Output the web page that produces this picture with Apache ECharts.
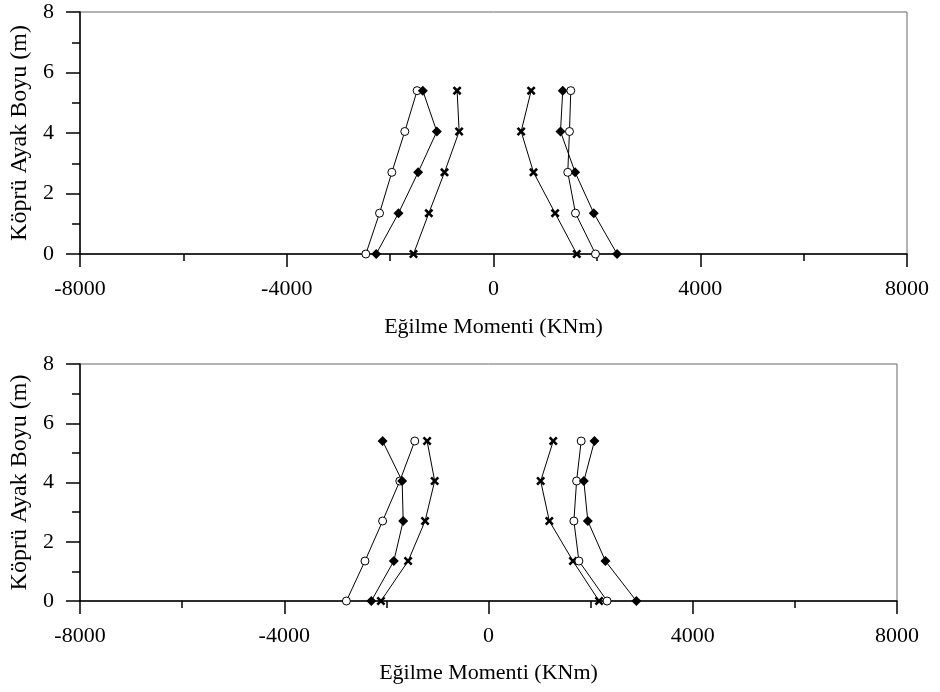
<!DOCTYPE html>
<html>
<head>
<meta charset="utf-8">
<script src="https://cdn.jsdelivr.net/npm/echarts@6/dist/echarts.min.js"></script>
<style>
  html, body { margin: 0; padding: 0; background: #fff; }
  #chart { width: 940px; height: 692px; }
</style>
</head>
<body>
<div id="chart"></div>
<script>
// Pier heights (m) at which bending moments were computed
const heights = [0, 1.35, 2.7, 4.05, 5.4];

// Upper panel: bending moments (kNm), negative and positive envelopes
const topCircleNeg  = [-2470, -2205, -1967, -1716, -1478];
const topDiamondNeg = [-2270, -1838, -1458, -1097, -1368];
const topCrossNeg   = [-1548, -1251, -948, -665, -704];
const topCrossPos   = [1611, 1192, 774, 535, 728];
const topDiamondPos = [2391, 1940, 1579, 1296, 1340];
const topCirclePos  = [1973, 1586, 1437, 1470, 1495];

// Lower panel
const botCircleNeg  = [-2783, -2419, -2074, -1737, -1444];
const botDiamondNeg = [-2295, -1854, -1671, -1691, -2074];
const botCrossNeg   = [-2107, -1574, -1242, -1054, -1202];
const botCrossPos   = [2166, 1654, 1191, 1022, 1268];
const botCirclePos  = [2322, 1770, 1672, 1725, 1815];
const botDiamondPos = [2896, 2290, 1945, 1867, 2075];

// Axis ticks
const xTicks = { min: -8000, max: 8000, interval: 4000 };
const yTicks = { min: 0, max: 8, interval: 2 };

const xTitle = 'Eğilme Momenti (KNm)';
const yTitle = 'Köprü Ayak Boyu (m)';

const FONT = '"Liberation Serif", "Times New Roman", serif';
const CROSS = 'path://M0,2 L2,0 L5,3 L8,0 L10,2 L7,5 L10,8 L8,10 L5,7 L2,10 L0,8 L3,5 Z';

const markers = {
  circle:  { symbol: 'circle', symbolSize: 8, itemStyle: { color: '#fff', borderColor: '#000', borderWidth: 1 } },
  diamond: { symbol: 'diamond', symbolSize: 10, itemStyle: { color: '#000', borderColor: '#000', borderWidth: 0 } },
  cross:   { symbol: CROSS, symbolSize: 9, itemStyle: { color: '#000', borderWidth: 0 } }
};

function profile(name, values, kind, gridIndex) {
  return Object.assign({
    name: name,
    type: 'line',
    xAxisIndex: gridIndex,
    yAxisIndex: gridIndex,
    data: values.map((v, i) => [v, heights[i]]),
    lineStyle: { color: '#000', width: 1 },
    showAllSymbol: true,
    animation: false,
    z: 3
  }, markers[kind]);
}

function xAxisFor(gridIndex, gap) {
  return {
    gridIndex: gridIndex,
    type: 'value',
    min: xTicks.min, max: xTicks.max, interval: xTicks.interval,
    name: xTitle,
    nameLocation: 'middle',
    nameGap: gap,
    nameTextStyle: { fontFamily: FONT, fontSize: 22, color: '#000' },
    axisLine: { show: true, onZero: false, lineStyle: { color: '#000', width: 1.5 } },
    axisTick: { show: true, inside: false, length: 13, lineStyle: { color: '#000', width: 1.5 } },
    minorTick: { show: true, splitNumber: 2, length: 7, lineStyle: { color: '#000', width: 1.5 } },
    axisLabel: { fontFamily: FONT, fontSize: 22, color: '#000', margin: 24, formatter: v => String(v) },
    splitLine: { show: false },
    minorSplitLine: { show: false }
  };
}

function yAxisFor(gridIndex) {
  return {
    gridIndex: gridIndex,
    type: 'value',
    min: yTicks.min, max: yTicks.max, interval: yTicks.interval,
    name: yTitle,
    nameLocation: 'middle',
    nameGap: 48,
    nameTextStyle: { fontFamily: FONT, fontSize: 24, color: '#000' },
    axisLine: { show: true, onZero: false, lineStyle: { color: '#000', width: 1.5 } },
    axisTick: { show: true, inside: false, length: 14, lineStyle: { color: '#000', width: 1.5 } },
    minorTick: { show: true, splitNumber: 2, length: 8, lineStyle: { color: '#000', width: 1.5 } },
    axisLabel: { fontFamily: FONT, fontSize: 22, color: '#000', margin: 26 },
    splitLine: { show: false },
    minorSplitLine: { show: false }
  };
}

const chart = echarts.init(document.getElementById('chart'), null, { renderer: 'canvas' });

chart.setOption({
  backgroundColor: '#fff',
  animation: false,
  grid: [
    { left: 79, top: 12, width: 828, height: 242, show: true, borderColor: '#666', borderWidth: 1 },
    { left: 79, top: 364, width: 818, height: 237, show: true, borderColor: '#666', borderWidth: 1 }
  ],
  xAxis: [xAxisFor(0, 62), xAxisFor(1, 61)],
  yAxis: [yAxisFor(0), yAxisFor(1)],
  series: [
    profile('topCircleNeg', topCircleNeg, 'circle', 0),
    profile('topDiamondNeg', topDiamondNeg, 'diamond', 0),
    profile('topCrossNeg', topCrossNeg, 'cross', 0),
    profile('topCrossPos', topCrossPos, 'cross', 0),
    profile('topDiamondPos', topDiamondPos, 'diamond', 0),
    profile('topCirclePos', topCirclePos, 'circle', 0),
    profile('botCircleNeg', botCircleNeg, 'circle', 1),
    profile('botDiamondNeg', botDiamondNeg, 'diamond', 1),
    profile('botCrossNeg', botCrossNeg, 'cross', 1),
    profile('botCrossPos', botCrossPos, 'cross', 1),
    profile('botCirclePos', botCirclePos, 'circle', 1),
    profile('botDiamondPos', botDiamondPos, 'diamond', 1)
  ]
});
</script>
</body>
</html>
